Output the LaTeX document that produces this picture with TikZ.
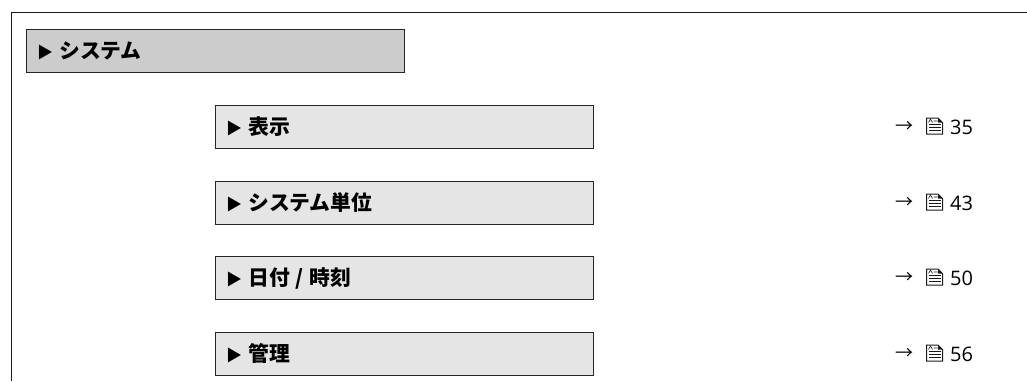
\documentclass[tikz,border=0pt]{standalone}
\usepackage{fontspec}
\setmainfont{Open Sans}
\newfontfamily\cjk{Noto Sans CJK JP}
\newcommand{\tri}{{\fontsize{16}{18}\selectfont ▶}\hspace{6pt}}
\tikzset{
  x=1pt,y=-1pt,
  basebox/.style={draw=black!85,line width=0.9pt,anchor=north west,minimum height=43pt,inner xsep=0pt,inner ysep=0pt,align=left,text depth=0pt},
  mainbox/.style={basebox,fill=black!20,minimum width=377.5pt},
  subbox/.style={basebox,fill=black!10,minimum width=378pt},
  lab/.style={font=\cjk\bfseries\fontsize{20.8}{24}\selectfont,anchor=base west,inner sep=0pt},
  refno/.style={font=\fontsize{20}{22}\selectfont,anchor=west,inner sep=0pt},
  arr/.style={font=\fontsize{18}{20}\selectfont,anchor=center,inner sep=0pt},
}
\newcommand{\docicon}[1]{%
  \begin{scope}[shift={(#1)},line width=1pt,black!90]
    \draw (-8,-8) -- (3.5,-8) -- (8,-3.5) -- (8,8) -- (-8,8) -- cycle;
    \fill (3.5,-8) -- (8,-3.5) -- (3.5,-3.5) -- cycle;
    \draw (-6,-1.5) -- (6,-1.5) (-6,1.5) -- (6,1.5) (-6,4.5) -- (6,4.5);
    \draw[line width=0.6pt] (-6,-3.5) -- (-4,-7) -- (-2,-3.5) (-1,-5) -- (3,-5);
  \end{scope}}
\begin{document}
\begin{tikzpicture}
\useasboundingbox (0,0) rectangle (1027,381);
\draw[line width=0.9pt,black!90] (1027,12.5) -- (11.2,12.5) -- (11.2,381);
\node[mainbox] (sys) at (26,29) {};
\node[lab] (syslab) at (37,58.5) {\tri システム};
\foreach \n/\y/\t/\p in {a/105/{表示}/35,b/181/{システム単位}/43,c/256/{日付\hspace{6pt}/\hspace{6pt}時刻}/50,d/332/{管理}/56}{
  \node[subbox] (\n) at (214.9,\y) {};
  \node[lab] (\n lab) at (226,\y+29.5) {\tri \t};
  \node[arr] (\n arr) at (904.5,\y+22) {\cjk→};
  \docicon{934.5,\y+21}
  \node[refno] (\n no) at (950,\y+22) {\p};
}
\end{tikzpicture}
\end{document}
